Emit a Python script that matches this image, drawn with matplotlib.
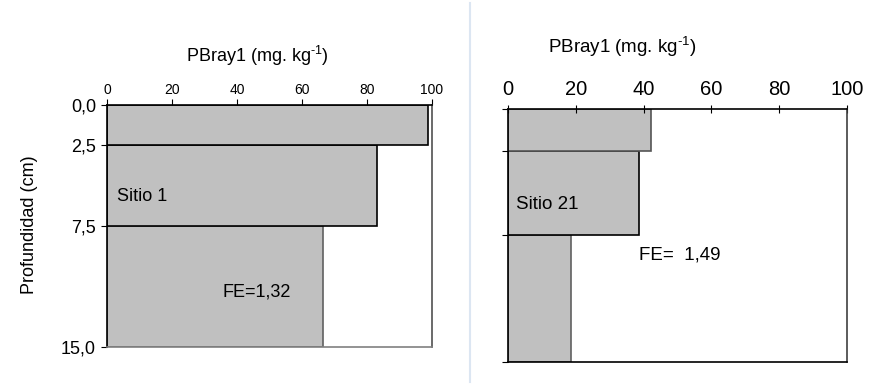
import numpy as np
import matplotlib
matplotlib.use("Agg")
import matplotlib.pyplot as plt
from matplotlib.lines import Line2D

plt.rcParams['font.family'] = ['Liberation Sans', 'DejaVu Sans']
plt.rcParams['mathtext.fontset'] = 'custom'
plt.rcParams['mathtext.rm'] = 'Liberation Sans'

# depth layers (cm)
depth_top = [0.0, 2.5, 7.5]
depth_bot = [2.5, 7.5, 15.0]
depth_ticks = [0.0, 2.5, 7.5, 15.0]
depth_labels = ['0,0', '2,5', '7,5', '15,0']
x_ticks = [0, 20, 40, 60, 80, 100]

# PBray1 values per layer
sitio1 = [98.7, 83.2, 66.4]
sitio21 = [42.1, 38.7, 18.4]

title = 'PBray1 (mg. kg$^{\\text{-1}}$)'
fill = '#c0c0c0'

W, H = 869, 384
fig = plt.figure(figsize=(W / 100, H / 100), dpi=100)


def box(x0, y0, x1, y1):
    # pixel box (top-left origin) -> axes rect
    return [x0 / W, 1 - y1 / H, (x1 - x0) / W, (y1 - y0) / H]


def draw_bars(ax, vals, edges):
    thick = np.array(depth_bot) - np.array(depth_top)
    # draw deepest first so upper edges stay on top
    for i in [2, 1, 0]:
        ax.barh(depth_top[i], vals[i], height=thick[i], align='edge',
                color=fill, edgecolor=edges[i], linewidth=1.2)


# --- left panel: Sitio 1
ax1 = fig.add_axes(box(107, 105, 432, 347))
draw_bars(ax1, sitio1, ['black', 'black', '#606060'])
ax1.set_xlim(0, 100)
ax1.set_ylim(15, 0)
ax1.xaxis.tick_top()
ax1.set_xticks(x_ticks)
ax1.set_yticks(depth_ticks)
ax1.set_yticklabels(depth_labels)
ax1.tick_params(axis='x', direction='out', length=4, pad=2, labelsize=10)
ax1.tick_params(axis='y', direction='out', length=4, pad=4, labelsize=13)
ax1.spines['right'].set_color('#505050')
ax1.spines['bottom'].set_color('#808080')
for s in ax1.spines.values():
    s.set_linewidth(1.2)
ax1.text(3.1, 5.7, 'Sitio 1', fontsize=13, va='center', ha='left')
ax1.text(35.4, 11.6, 'FE=1,32', fontsize=13, va='center', ha='left')

# --- right panel: Sitio 21
ax2 = fig.add_axes(box(508.3, 109, 846.7, 361.7))
draw_bars(ax2, sitio21, ['#555555', 'black', '#606060'])
ax2.set_xlim(0, 100)
ax2.set_ylim(15, 0)
ax2.xaxis.tick_top()
ax2.set_xticks(x_ticks)
ax2.set_yticks(depth_ticks)
ax2.set_yticklabels([])
ax2.tick_params(axis='x', direction='inout', length=6, pad=4, labelsize=14.5)
ax2.tick_params(axis='y', direction='out', length=4)
ax2.spines['right'].set_color('#404040')
for s in ax2.spines.values():
    s.set_linewidth(1.2)
ax2.text(2.3, 5.64, 'Sitio 21', fontsize=13.5, va='center', ha='left')
ax2.text(38.6, 8.66, 'FE=  1,49', fontsize=13.5, va='center', ha='left')

# axis titles
fig.text(257 / W, 1 - 56 / H, title, fontsize=13, ha='center', va='center')
fig.text(622 / W, 1 - 47 / H, title, fontsize=13.5, ha='center', va='center')
fig.text(30 / W, 1 - 225 / H, 'Profundidad (cm)', fontsize=13,
         rotation=90, ha='center', va='center')

# separator between the two charts
fig.add_artist(Line2D([469.5 / W] * 2, [1 - 3 / H, 1 - 382 / H],
                      color='#dce6f2', lw=1.5))

fig.savefig('out.png', dpi=100)
